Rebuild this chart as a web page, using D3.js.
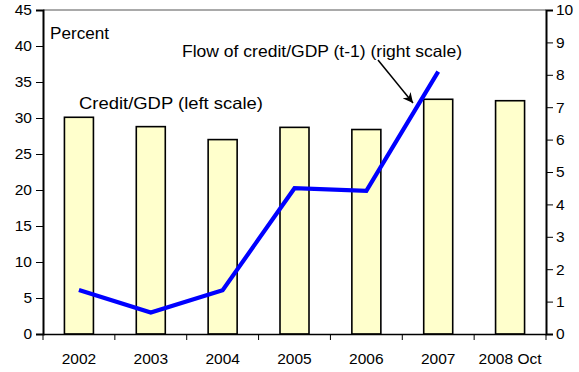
<!DOCTYPE html>
<html><head><meta charset="utf-8">
<script src="https://cdn.jsdelivr.net/npm/d3@7"></script>
<style>body{margin:0;background:#fff}svg{display:block;font-family:"Liberation Sans",Arial,sans-serif}</style>
</head><body><svg id="c" width="579" height="372"></svg>
<script>
const categories = ["2002","2003","2004","2005","2006","2007","2008 Oct"];
const creditGDP = [30.1, 28.8, 27.0, 28.7, 28.4, 32.6, 32.4];
const flowCredit = [1.36, 0.66, 1.35, 4.5, 4.42, 8.1];
const leftTicks = [0,5,10,15,20,25,30,35,40,45];
const rightTicks = [0,1,2,3,4,5,6,7,8,9,10];

const svg = d3.select("#c");
const L = 43, R = 546, T = 10, B = 334;
const x = d3.scaleBand().domain(categories).range([L, R]);
const yL = d3.scaleLinear().domain([0,45]).range([B, T]);
const yR = d3.scaleLinear().domain([0,10]).range([B, T]);

svg.append("line").attr("x1",L).attr("x2",R).attr("y1",T).attr("y2",T).attr("stroke","#555").attr("stroke-width",1);

const bw = 29;
svg.selectAll("rect.bar").data(creditGDP).join("rect")
  .attr("x",(d,i)=>x(categories[i])+x.bandwidth()/2-bw/2)
  .attr("y",d=>yL(d)).attr("width",bw).attr("height",d=>B-yL(d))
  .attr("fill","#FFFFCC").attr("stroke","#000").attr("stroke-width",1.6);

const line = d3.line().x((d,i)=>x(categories[i])+x.bandwidth()/2).y(d=>yR(d));
svg.append("path").datum(flowCredit).attr("d",line).attr("fill","none")
  .attr("stroke","#0000FF").attr("stroke-width",4.2).attr("stroke-linejoin","miter");

const axL = d3.axisLeft(yL).tickValues(leftTicks).tickSize(7).tickPadding(4);
const gL = svg.append("g").attr("transform",`translate(${L},0)`).call(axL);
const axR = d3.axisRight(yR).tickValues(rightTicks).tickSize(7).tickPadding(3);
const gR = svg.append("g").attr("transform",`translate(${R},0)`).call(axR);
const axB = d3.axisBottom(x).tickValues([]).tickSizeOuter(0);
const gB = svg.append("g").attr("transform",`translate(0,${B})`).call(axB);
const bounds = categories.map(c=>x(c)).concat([R]);
svg.selectAll("line.bt").data(bounds).join("line")
  .attr("x1",d=>d).attr("x2",d=>d).attr("y1",B).attr("y2",B+6).attr("stroke","#000").attr("stroke-width",1);
svg.selectAll("text.cat").data(categories).join("text")
  .attr("x",d=>x(d)+x.bandwidth()/2).attr("y",364).attr("text-anchor","middle")
  .attr("font-size",15.5).attr("fill","#000").text(d=>d);

[gL,gR,gB].forEach(g=>{
  g.select(".domain").attr("stroke","#000").attr("stroke-width",2);
  g.selectAll(".tick line").attr("stroke","#000");
  g.selectAll(".tick text").attr("font-size",15.5).attr("fill","#000").attr("font-family",'"Liberation Sans",Arial,sans-serif');
});
gB.select(".domain").attr("stroke-width",1.5);

svg.append("text").attr("x",50).attr("y",39).attr("font-size",16.5)
  .attr("textLength",59).attr("lengthAdjust","spacingAndGlyphs").text("Percent");
svg.append("text").attr("x",79).attr("y",109).attr("font-size",16.5)
  .attr("textLength",184).attr("lengthAdjust","spacingAndGlyphs").text("Credit/GDP (left scale)");
svg.append("text").attr("x",182).attr("y",56.5).attr("font-size",16.5)
  .attr("textLength",280).attr("lengthAdjust","spacingAndGlyphs").text("Flow of credit/GDP (t-1) (right scale)");
svg.append("defs").append("marker").attr("id","ah").attr("viewBox","0 0 10 10")
  .attr("refX",10).attr("refY",5).attr("markerWidth",10).attr("markerHeight",10).attr("orient","auto")
  .attr("markerUnits","userSpaceOnUse")
  .append("path").attr("d","M0,0 L10,5 L0,10 L3,5 Z").attr("fill","#000");
svg.append("line").attr("x1",378).attr("y1",60).attr("x2",413).attr("y2",103)
  .attr("stroke","#000").attr("stroke-width",1.5).attr("marker-end","url(#ah)");
</script></body></html>
